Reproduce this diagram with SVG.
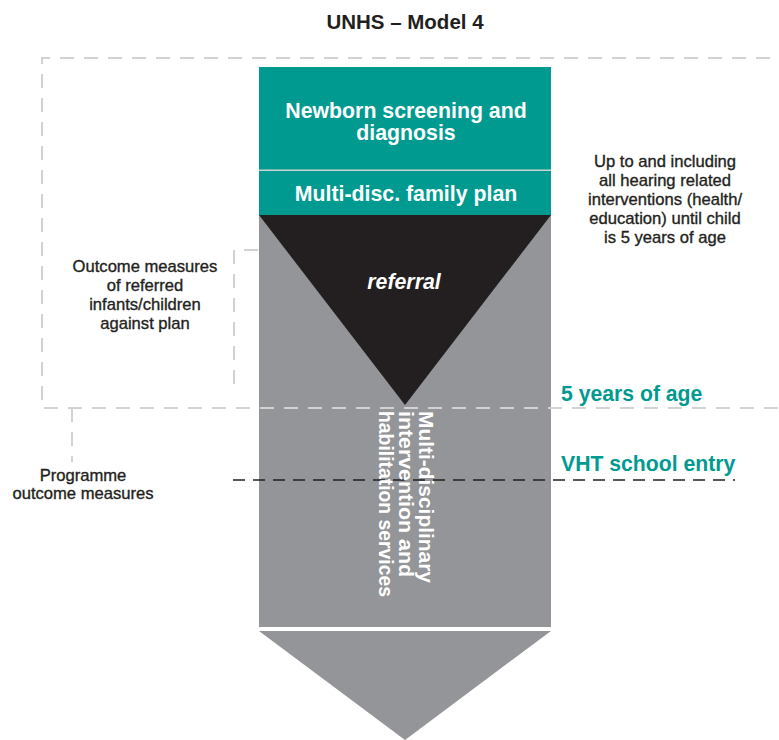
<svg xmlns="http://www.w3.org/2000/svg" width="779" height="740" viewBox="0 0 779 740">
  <style>
    text { font-family: "Liberation Sans", Arial, sans-serif; }
    .title { font-size: 20.5px; font-weight: bold; fill: #231f20; text-anchor: middle; }
    .box { font-size: 21.3px; font-weight: bold; fill: #ffffff; text-anchor: middle; }
    .note { font-size: 16.6px; fill: #231f20; text-anchor: middle; stroke: #231f20; stroke-width: 0.35; }
    .teal { font-size: 21.2px; font-weight: bold; fill: #009a90; }
    .vert { font-size: 20.5px; font-weight: bold; fill: #ffffff; }
    .gdash { fill: none; stroke: #d2d2d2; stroke-width: 2; stroke-dasharray: 14 10; }
    .kdash { fill: none; stroke: #231f20; stroke-width: 1.5; stroke-dasharray: 12 8; }
  </style>
  <rect width="779" height="740" fill="#ffffff"/>

  <g id="title">
    <text class="title" x="405" y="29">UNHS – Model 4</text>
  </g>

  <g id="column">
    <rect x="259" y="215" width="292" height="412" fill="#939598"/>
  </g>
  <g id="screening">
    <rect x="259" y="67" width="292" height="103" fill="#009a90"/>
    <text class="box" x="406" y="118">Newborn screening and</text>
    <text class="box" x="406" y="140">diagnosis</text>
  </g>
  <g id="family-plan">
    <rect x="259" y="171" width="292" height="45" fill="#009a90"/>
    <line x1="259" y1="170.3" x2="551" y2="170.3" stroke="#cfd3d2" stroke-width="1.5"/>
    <text class="box" x="406" y="201">Multi-disc. family plan</text>
  </g>
  <g id="referral">
    <polygon points="259,215 551,215 405,405" fill="#231f20"/>
    <text class="box" x="404" y="289" font-style="italic" font-size="20.5">referral</text>
  </g>
  <g id="arrow">
    <polygon points="259,631 551,631 405,740" fill="#939598"/>
  </g>

  <g id="connectors">
    <polyline class="gdash" points="770,58 42,58 42,408 779,408"/>
    <line class="gdash" x1="72" y1="408" x2="72" y2="462"/>
    <polyline class="gdash" points="258,250 234,250 234,390"/>
    <line class="kdash" x1="233" y1="480" x2="735" y2="480"/>
  </g>

  <g id="services">
    <text class="vert" transform="translate(419,411) rotate(90)" textLength="172" lengthAdjust="spacingAndGlyphs">Multi-disciplinary</text>
    <text class="vert" transform="translate(399,411) rotate(90)" textLength="166" lengthAdjust="spacingAndGlyphs">intervention and</text>
    <text class="vert" transform="translate(379,411) rotate(90)" textLength="186" lengthAdjust="spacingAndGlyphs">habilitation services</text>
  </g>

  <g id="scope-note">
    <text class="note" x="665" y="167">Up to and including</text>
    <text class="note" x="665" y="186">all hearing related</text>
    <text class="note" x="665" y="205">interventions (health/</text>
    <text class="note" x="665" y="224">education) until child</text>
    <text class="note" x="665" y="243">is 5 years of age</text>
  </g>

  <g id="outcome-referred">
    <text class="note" x="145" y="272">Outcome measures</text>
    <text class="note" x="145" y="291">of referred</text>
    <text class="note" x="145" y="310">infants/children</text>
    <text class="note" x="145" y="329">against plan</text>
  </g>

  <g id="programme-outcome">
    <text class="note" x="83" y="481">Programme</text>
    <text class="note" x="83" y="499">outcome measures</text>
  </g>

  <g id="five-years">
    <text class="teal" x="561" y="401">5 years of age</text>
  </g>
  <g id="school-entry">
    <text class="teal" x="561" y="471">VHT school entry</text>
  </g>
</svg>
